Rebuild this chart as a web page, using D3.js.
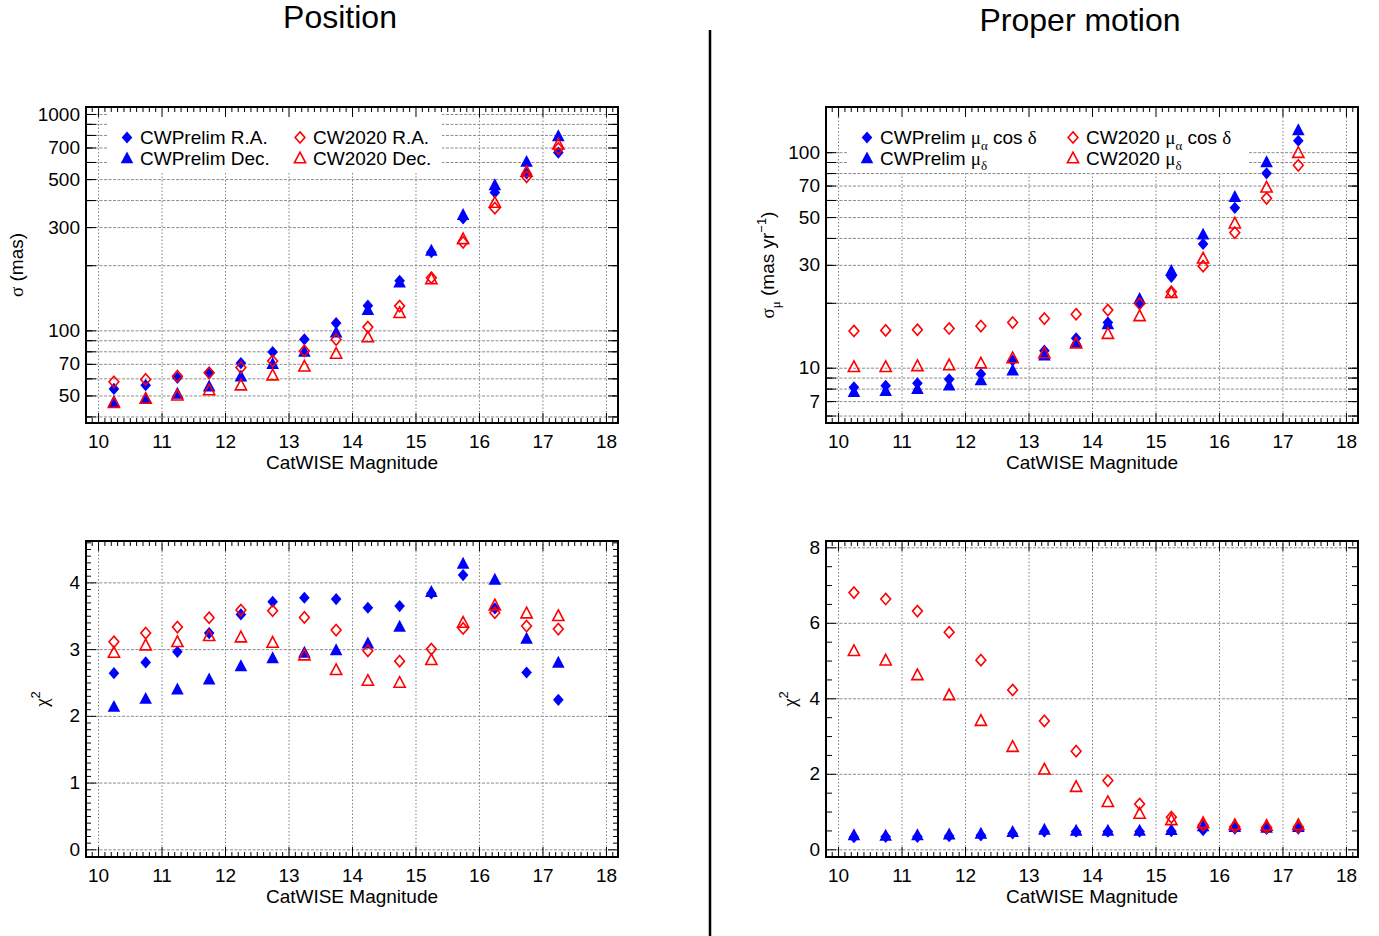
<!DOCTYPE html>
<html><head><meta charset="utf-8">
<script src="https://cdn.jsdelivr.net/npm/d3@7"></script>
<style>body{margin:0;background:#fff}svg{display:block}</style>
</head><body>
<svg id="c" width="1379" height="936"></svg>
<script>
// ---------------- DATA ----------------
const magBins = [10.25,10.75,11.25,11.75,12.25,12.75,13.25,13.75,14.25,14.75,15.25,15.75,16.25,16.75,17.25];
const xTickLabels = [10,11,12,13,14,15,16,17,18];

// Position sigma (mas)
const posPrelimRA  = [53.6,55.8,60.3,63.8,70.6,79.4,90.9,108,130,169.5,229.6,329,433.5,530.6,663];
const posPrelimDec = [46.8,48.4,51.1,55.2,61.4,70.2,80,98.2,124.5,167,234,342.5,470.6,603,792];
const pos2020RA    = [57.8,59.3,61.4,63.6,67.3,72.2,80.3,90.6,103.5,129.4,175,255,367,512.5,692];
const pos2020Dec   = [46.3,48.4,50.1,53.0,55.8,62.1,68.2,78.2,93.1,120.6,173,264.6,390,542,725];

// Proper-motion sigma (mas/yr)
const pmPrelimRA  = [8.11,8.25,8.47,8.83,9.35,10.8,12.0,13.7,16.2,19.9,26.4,37.5,55.2,79.8,113];
const pmPrelimDec = [7.74,7.82,7.99,8.29,8.77,9.75,11.45,13.2,15.96,20.9,28.2,41.6,62.2,90.1,126.8];
const pm2020RA    = [14.8,14.9,15.0,15.2,15.6,16.2,16.9,17.7,18.5,19.8,22.5,29.6,42.3,61.1,86.9];
const pm2020Dec   = [10.1,10.1,10.2,10.3,10.5,11.1,11.7,13.0,14.4,17.4,22.3,32.2,46.8,68.7,99.5];

// chi^2 position
const chiPosPrelimRA  = [2.64,2.80,2.96,3.24,3.52,3.71,3.77,3.75,3.62,3.645,3.835,4.11,3.61,2.65,2.24];
const chiPosPrelimDec = [2.14,2.26,2.40,2.55,2.75,2.87,2.95,2.99,3.09,3.34,3.86,4.285,4.045,3.16,2.80];
const chiPos2020RA    = [3.11,3.24,3.33,3.47,3.585,3.575,3.475,3.285,2.975,2.82,3.0,3.31,3.545,3.345,3.30];
const chiPos2020Dec   = [2.95,3.06,3.11,3.20,3.18,3.10,2.91,2.69,2.53,2.50,2.84,3.40,3.66,3.54,3.50];

// chi^2 proper motion
const chiPmPrelimRA  = [0.32,0.33,0.33,0.35,0.37,0.42,0.47,0.47,0.47,0.47,0.48,0.51,0.55,0.54,0.55];
const chiPmPrelimDec = [0.38,0.37,0.38,0.40,0.42,0.47,0.53,0.50,0.50,0.50,0.52,0.62,0.60,0.58,0.60];
const chiPm2020RA    = [6.80,6.63,6.31,5.75,5.01,4.22,3.40,2.60,1.82,1.20,0.85,0.64,0.60,0.58,0.59];
const chiPm2020Dec   = [5.26,5.01,4.62,4.09,3.41,2.72,2.12,1.66,1.26,0.95,0.78,0.70,0.65,0.63,0.65];

// tick labels
const posSigmaLabels = [1000,700,500,300,100,70,50];
const posSigmaGrid = [40,50,60,70,80,90,100,200,300,400,500,600,700,800,900,1000];
const pmSigmaLabels = [100,70,50,30,10,7];
const pmSigmaGrid = [6,7,8,9,10,20,30,40,50,60,70,80,90,100];
const chiPosLabels = [0,1,2,3,4];
const chiPmLabels = [0,2,4,6,8];

// legend texts
const posLegend = [
  [{t:"CWPrelim R.A."}],
  [{t:"CWPrelim Dec."}],
  [{t:"CW2020 R.A."}],
  [{t:"CW2020 Dec."}]
];
const pmLegend = [
  [{t:"CWPrelim "},{t:"μ",f:"serif"},{t:"α",f:"serif",s:"sub"},{t:" cos "},{t:"δ",f:"serif"}],
  [{t:"CWPrelim "},{t:"μ",f:"serif"},{t:"δ",f:"serif",s:"sub"}],
  [{t:"CW2020 "},{t:"μ",f:"serif"},{t:"α",f:"serif",s:"sub"},{t:" cos "},{t:"δ",f:"serif"}],
  [{t:"CW2020 "},{t:"μ",f:"serif"},{t:"δ",f:"serif",s:"sub"}]
];

// ---------------- DRAWING ----------------
const SANS = '"Liberation Sans", Arial, Helvetica, sans-serif';
const SERIF = '"Liberation Serif", "Times New Roman", serif';
const BLUE = '#0000ff', RED = '#ff0000';
const xDomain = [9.81, 18.19];
const svg = d3.select('#c');

const diamondType = {draw(ctx, s){ const w = s, h = s*1.15; ctx.moveTo(0,-h); ctx.lineTo(w,0); ctx.lineTo(0,h); ctx.lineTo(-w,0); ctx.closePath(); }};
const triangleType = {draw(ctx, s){ ctx.moveTo(0,-s*1.05); ctx.lineTo(s,s*0.85); ctx.lineTo(-s,s*0.85); ctx.closePath(); }};

function rich(textSel, segs, fs){
  let shift = 0;
  segs.forEach(seg => {
    const ts = textSel.append('tspan').text(seg.t)
      .attr('font-family', seg.f === 'serif' ? SERIF : SANS);
    let target = 0, size = fs;
    if (seg.s === 'sub') { target = fs*0.3; size = fs*0.68; }
    if (seg.s === 'sup') { target = -fs*0.42; size = fs*0.68; }
    ts.attr('font-size', size);
    if (target !== shift) { ts.attr('dy', target - shift); shift = target; }
  });
}

function symbolPath(kind, filled){
  if (kind === 'diamond') return d3.symbol().type(diamondType).size(filled ? 5.3 : 4.9)();
  return d3.symbol().type(triangleType).size(filled ? 6.3 : 5.6)();
}

function drawPanel(cfg){
  const g = svg.append('g');
  const {L,R,T,B} = cfg.box;
  const x = d3.scaleLinear().domain(xDomain).range([L,R]);
  const y = (cfg.log ? d3.scaleLog() : d3.scaleLinear()).domain(cfg.yDomain).range([B,T]);

  // grid lines
  g.append('g').attr('transform',`translate(0,${B})`)
    .call(d3.axisBottom(x).tickValues(xTickLabels).tickSize(-(B-T)).tickFormat(''))
    .call(s => { s.select('.domain').remove(); s.selectAll('line').attr('stroke','#808080').attr('stroke-dasharray','1.5,2'); });
  g.append('g').attr('transform',`translate(${L},0)`)
    .call(d3.axisLeft(y).tickValues(cfg.yGrid).tickSize(-(R-L)).tickFormat(''))
    .call(s => { s.select('.domain').remove(); s.selectAll('line').attr('stroke','#8c8c8c').attr('stroke-dasharray','3,1.5'); });

  // legend background
  if (cfg.legend){
    const lb = cfg.legend.box;
    g.append('rect').attr('x',lb[0]).attr('y',lb[1]).attr('width',lb[2]-lb[0]).attr('height',lb[3]-lb[1]).attr('fill','#fff');
  }

  // minor ticks on x (every 0.1) and major (integers)
  const xMinor = d3.range(99,182).map(i => i/10).filter(v => Math.abs(v - Math.round(v)) > 1e-6);
  const tickStyle = s => { s.select('.domain').remove(); s.selectAll('line').attr('stroke','#000').attr('stroke-width',1); };
  g.append('g').attr('transform',`translate(0,${B})`).call(d3.axisBottom(x).tickValues(xMinor).tickSize(-5).tickFormat('')).call(tickStyle);
  g.append('g').attr('transform',`translate(0,${T})`).call(d3.axisTop(x).tickValues(xMinor).tickSize(-5).tickFormat('')).call(tickStyle);
  g.append('g').attr('transform',`translate(0,${B})`).call(d3.axisBottom(x).tickValues(xTickLabels).tickSize(-10).tickFormat('')).call(tickStyle);
  g.append('g').attr('transform',`translate(0,${T})`).call(d3.axisTop(x).tickValues(xTickLabels).tickSize(-10).tickFormat('')).call(tickStyle);

  // y ticks
  g.append('g').attr('transform',`translate(${L},0)`).call(d3.axisLeft(y).tickValues(cfg.yMinor).tickSize(-cfg.minorLen).tickFormat('')).call(tickStyle);
  g.append('g').attr('transform',`translate(${R},0)`).call(d3.axisRight(y).tickValues(cfg.yMinor).tickSize(-cfg.minorLen).tickFormat('')).call(tickStyle);
  g.append('g').attr('transform',`translate(${L},0)`).call(d3.axisLeft(y).tickValues(cfg.yGrid).tickSize(-10).tickFormat('')).call(tickStyle);
  g.append('g').attr('transform',`translate(${R},0)`).call(d3.axisRight(y).tickValues(cfg.yGrid).tickSize(-10).tickFormat('')).call(tickStyle);

  // frame
  g.append('rect').attr('x',L).attr('y',T).attr('width',R-L).attr('height',B-T)
    .attr('fill','none').attr('stroke','#000').attr('stroke-width',2);

  // tick labels
  const lab = s => { s.select('.domain').remove(); s.attr('font-size',19).attr('font-family',SANS); s.selectAll('text').attr('fill','#000'); };
  g.append('g').attr('transform',`translate(0,${B})`)
    .call(d3.axisBottom(x).tickValues(xTickLabels).tickSize(0).tickPadding(11.5).tickFormat(d3.format('d'))).call(lab);
  g.append('g').attr('transform',`translate(${L},0)`)
    .call(d3.axisLeft(y).tickValues(cfg.yLabels).tickSize(0).tickPadding(6).tickFormat(d => String(d))).call(lab);

  // axis titles
  g.append('text').attr('x',(L+R)/2).attr('y',B+46).attr('text-anchor','middle')
    .attr('font-family',SANS).attr('font-size',19).text('CatWISE Magnitude');
  const yt = g.append('text').attr('transform',`translate(${cfg.yTitleX},${(T+B)/2}) rotate(-90)`)
    .attr('text-anchor','middle').attr('font-size',19).attr('font-family',SANS);
  rich(yt, cfg.yTitle, 19);

  // legend
  if (cfg.legend){
    const lg = cfg.legend;
    const items = [
      {c:0,r:0,kind:'diamond',filled:true},
      {c:0,r:1,kind:'triangle',filled:true},
      {c:1,r:0,kind:'diamond',filled:false},
      {c:1,r:1,kind:'triangle',filled:false}
    ];
    items.forEach((it,i) => {
      const sx = lg.cols[it.c], sy = lg.rows[it.r];
      g.append('path').attr('d', symbolPath(it.kind,it.filled)).attr('transform',`translate(${sx},${sy})`)
        .attr('fill', it.filled ? BLUE : 'none').attr('stroke', it.filled ? 'none' : RED).attr('stroke-width',1.6);
      const t = g.append('text').attr('x', sx+13).attr('y', sy+6.5).attr('font-family',SANS).attr('font-size',19);
      rich(t, lg.labels[i], 19);
    });
  }

  // data
  const series = [
    {vals: cfg.data[0], kind:'diamond', filled:true},
    {vals: cfg.data[1], kind:'triangle', filled:true},
    {vals: cfg.data[2], kind:'diamond', filled:false},
    {vals: cfg.data[3], kind:'triangle', filled:false}
  ];
  series.forEach(se => {
    g.append('g').selectAll('path').data(magBins.map((m,i) => [m, se.vals[i]])).join('path')
      .attr('d', symbolPath(se.kind, se.filled))
      .attr('transform', d => `translate(${x(d[0])},${y(d[1])})`)
      .attr('fill', se.filled ? BLUE : 'none')
      .attr('stroke', se.filled ? 'none' : RED)
      .attr('stroke-width', 1.6);
  });
}

const logMinor = (lo, hi) => { const out = []; for (let p = -1; p <= 4; p++) for (let k = 1; k <= 9; k++) { const v = k*Math.pow(10,p); if (v >= lo && v <= hi) out.push(v);} return out; };

drawPanel({
  box:{L:86,R:618,T:107,B:423}, log:true, yDomain:[37.3,1077],
  yGrid: posSigmaGrid, yLabels: posSigmaLabels, yMinor: logMinor(37.3,1077), minorLen:6,
  yTitleX: 23, yTitle: [{t:"σ",f:"serif"},{t:" (mas)"}],
  legend:{box:[108,108,442,172], cols:[127,300], rows:[137.5,158], labels: posLegend},
  data:[posPrelimRA,posPrelimDec,pos2020RA,pos2020Dec]
});
drawPanel({
  box:{L:826,R:1358,T:107,B:423}, log:true, yDomain:[5.54,162],
  yGrid: pmSigmaGrid, yLabels: pmSigmaLabels, yMinor: logMinor(5.54,162), minorLen:6,
  yTitleX: 774, yTitle: [{t:"σ",f:"serif"},{t:"μ",f:"serif",s:"sub"},{t:" (mas yr"},{t:"−1",s:"sup"},{t:")"}],
  legend:{box:[848,108,1248,172], cols:[867,1073], rows:[137.5,158], labels: pmLegend},
  data:[pmPrelimRA,pmPrelimDec,pm2020RA,pm2020Dec]
});
drawPanel({
  box:{L:86,R:618,T:541,B:857}, log:false, yDomain:[-0.115,4.62],
  yGrid: chiPosLabels, yLabels: chiPosLabels, yMinor: d3.range(0,47).map(i=>i/10).filter(v=>Math.abs(v-Math.round(v))>1e-6), minorLen:5,
  yTitleX: 48, yTitle: [{t:"χ",f:"serif"},{t:"2",s:"sup"}],
  data:[chiPosPrelimRA,chiPosPrelimDec,chiPos2020RA,chiPos2020Dec]
});
drawPanel({
  box:{L:826,R:1358,T:541,B:857}, log:false, yDomain:[-0.204,8.167],
  yGrid: chiPmLabels, yLabels: chiPmLabels, yMinor: d3.range(0,17).map(i=>i/2).filter(v=>v%2!==0), minorLen:6,
  yTitleX: 796, yTitle: [{t:"χ",f:"serif"},{t:"2",s:"sup"}],
  data:[chiPmPrelimRA,chiPmPrelimDec,chiPm2020RA,chiPm2020Dec]
});

// Titles and divider
svg.append('text').attr('x',340).attr('y',28).attr('text-anchor','middle').attr('font-family',SANS).attr('font-size',32).text('Position');
svg.append('text').attr('x',1080).attr('y',31).attr('text-anchor','middle').attr('font-family',SANS).attr('font-size',32).text('Proper motion');
svg.append('line').attr('x1',710).attr('x2',710).attr('y1',30).attr('y2',936).attr('stroke','#000').attr('stroke-width',2.5);
</script>
</body></html>
